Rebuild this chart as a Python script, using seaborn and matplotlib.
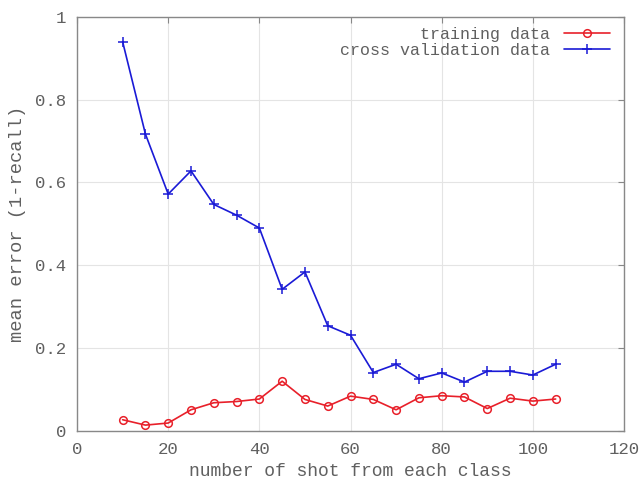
import numpy as np
import pandas as pd
import matplotlib
matplotlib.use('Agg')
import matplotlib.pyplot as plt
import seaborn as sns

shots = [10, 15, 20, 25, 30, 35, 40, 45, 50, 55, 60, 65, 70, 75, 80, 85, 90, 95, 100, 105]
train_err = [0.027, 0.014, 0.019, 0.051, 0.068, 0.071, 0.077, 0.120, 0.076, 0.060,
             0.084, 0.076, 0.051, 0.080, 0.085, 0.082, 0.054, 0.079, 0.072, 0.077]
cv_err = [0.940, 0.717, 0.572, 0.628, 0.547, 0.521, 0.490, 0.342, 0.384, 0.254,
          0.231, 0.141, 0.161, 0.126, 0.140, 0.118, 0.144, 0.144, 0.135, 0.161]

sns.set_style('white')
plt.rcParams['font.family'] = ['Liberation Mono', 'DejaVu Sans Mono']
txt = '#606060'

df = pd.DataFrame({'shots': shots, 'train': train_err, 'cv': cv_err})

fig = plt.figure(figsize=(6.42, 4.82), dpi=100)
ax = fig.add_axes([0.12, 0.106, 0.852, 0.859])

sns.lineplot(x='shots', y='train', data=df, ax=ax, color='#e8202a', marker='o',
             markersize=5.5, markerfacecolor='none', markeredgecolor='#e8202a',
             markeredgewidth=1.1, linewidth=1.2, label='training data')
sns.lineplot(x='shots', y='cv', data=df, ax=ax, color='#1a1ad6', marker='+',
             markersize=6.5, markeredgecolor='#1a1ad6', markeredgewidth=1.1,
             linewidth=1.2, label='cross validation data')

ax.set_xlim(0, 120)
ax.set_ylim(0, 1)
ax.set_xticks(range(0, 121, 20))
ax.set_yticks([0, 0.2, 0.4, 0.6, 0.8, 1])
ax.set_yticklabels(['0', '0.2', '0.4', '0.6', '0.8', '1'])
ax.grid(True, color='#e4e4e4', linewidth=0.8)
ax.tick_params(direction='in', length=4, colors='#888888', labelcolor=txt,
               labelsize=12.5, top=True, right=True, pad=8)
for s in ax.spines.values():
    s.set_color('#888888')
    s.set_linewidth(1.0)

ax.set_xlabel('number of shot from each class', fontsize=13, color=txt, labelpad=4)
ax.set_ylabel('mean error (1-recall)', fontsize=13.5, color=txt, labelpad=6)

leg = ax.legend(loc='upper right', frameon=False, markerfirst=False, fontsize=12,
                handlelength=2.8, borderaxespad=0.1, labelspacing=0.05,
                bbox_to_anchor=(0.99, 0.995))
for t in leg.get_texts():
    t.set_color(txt)

fig.savefig('out.png', dpi=100)
